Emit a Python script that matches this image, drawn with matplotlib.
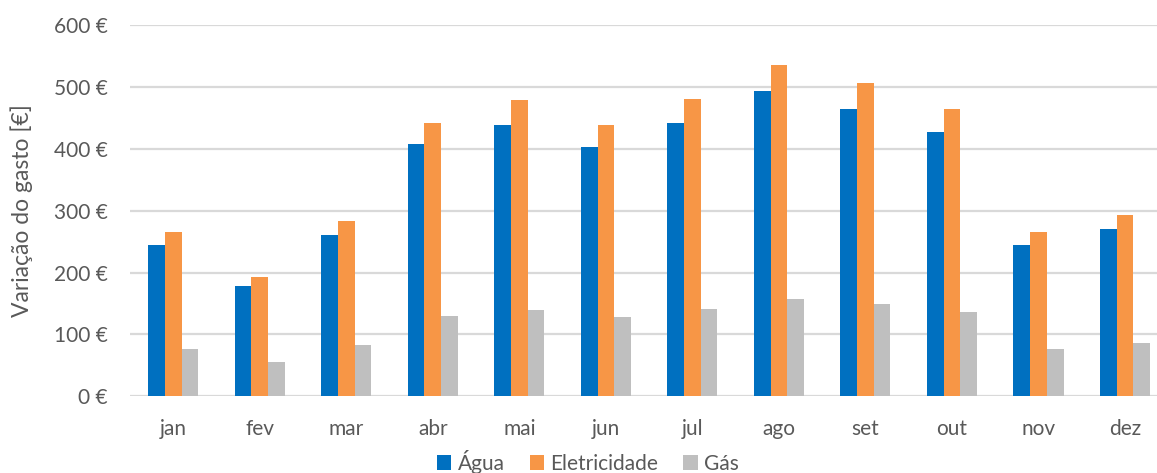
import numpy as np
import matplotlib.pyplot as plt
from matplotlib.ticker import FuncFormatter

plt.rcParams['font.family'] = ['Lato', 'DejaVu Sans']

meses = ['jan', 'fev', 'mar', 'abr', 'mai', 'jun', 'jul', 'ago', 'set', 'out', 'nov', 'dez']
agua = [244, 178, 260, 407, 439, 403, 442, 493, 465, 427, 244, 270]
eletricidade = [265, 193, 283, 442, 478, 438, 480, 535, 506, 464, 265, 293]
gas = [77, 56, 83, 130, 140, 128, 141, 157, 149, 136, 77, 86]

cor_texto = '#595959'
fig = plt.figure(figsize=(11.57, 4.73), dpi=100)
ax = fig.add_axes([130 / 1157, (473 - 396.3) / 473, 1027 / 1157, 371.3 / 473])

x = np.arange(len(meses))
w = 0.193
ax.bar(x - w, agua, w, color='#0070C0', label='Água', zorder=3)
ax.bar(x, eletricidade, w, color='#F79646', label='Eletricidade', zorder=3)
ax.bar(x + w, gas, w, color='#BFBFBF', label='Gás', zorder=3)

ax.set_ylim(0, 600)
ax.set_xlim(-0.5, 11.37)
ax.set_yticks(range(0, 601, 100))
ax.yaxis.set_major_formatter(FuncFormatter(lambda v, p: f'{v:.0f} €'))
ax.set_xticks(x)
ax.set_xticklabels(meses)
ax.grid(axis='y', color='#D9D9D9', linewidth=1.6, zorder=0)
for s in ax.spines.values():
    s.set_visible(False)
ax.tick_params(axis='both', length=0, labelsize=15, colors=cor_texto)
ax.tick_params(axis='y', pad=16)
ax.tick_params(axis='x', pad=16)

fig.text(22 / 1157, 1 - 211 / 473, 'Variação do gasto [€]', rotation=90,
         ha='center', va='center', fontsize=16.5, color=cor_texto)

leg = fig.legend(loc='center', bbox_to_anchor=(588 / 1157, 1 - 462 / 473), ncol=3,
                 frameon=False, fontsize=15, handlelength=0.7, handleheight=0.7,
                 handletextpad=0.3, columnspacing=1.2, borderpad=0)
for t in leg.get_texts():
    t.set_color(cor_texto)

fig.savefig('out.png', dpi=100)
